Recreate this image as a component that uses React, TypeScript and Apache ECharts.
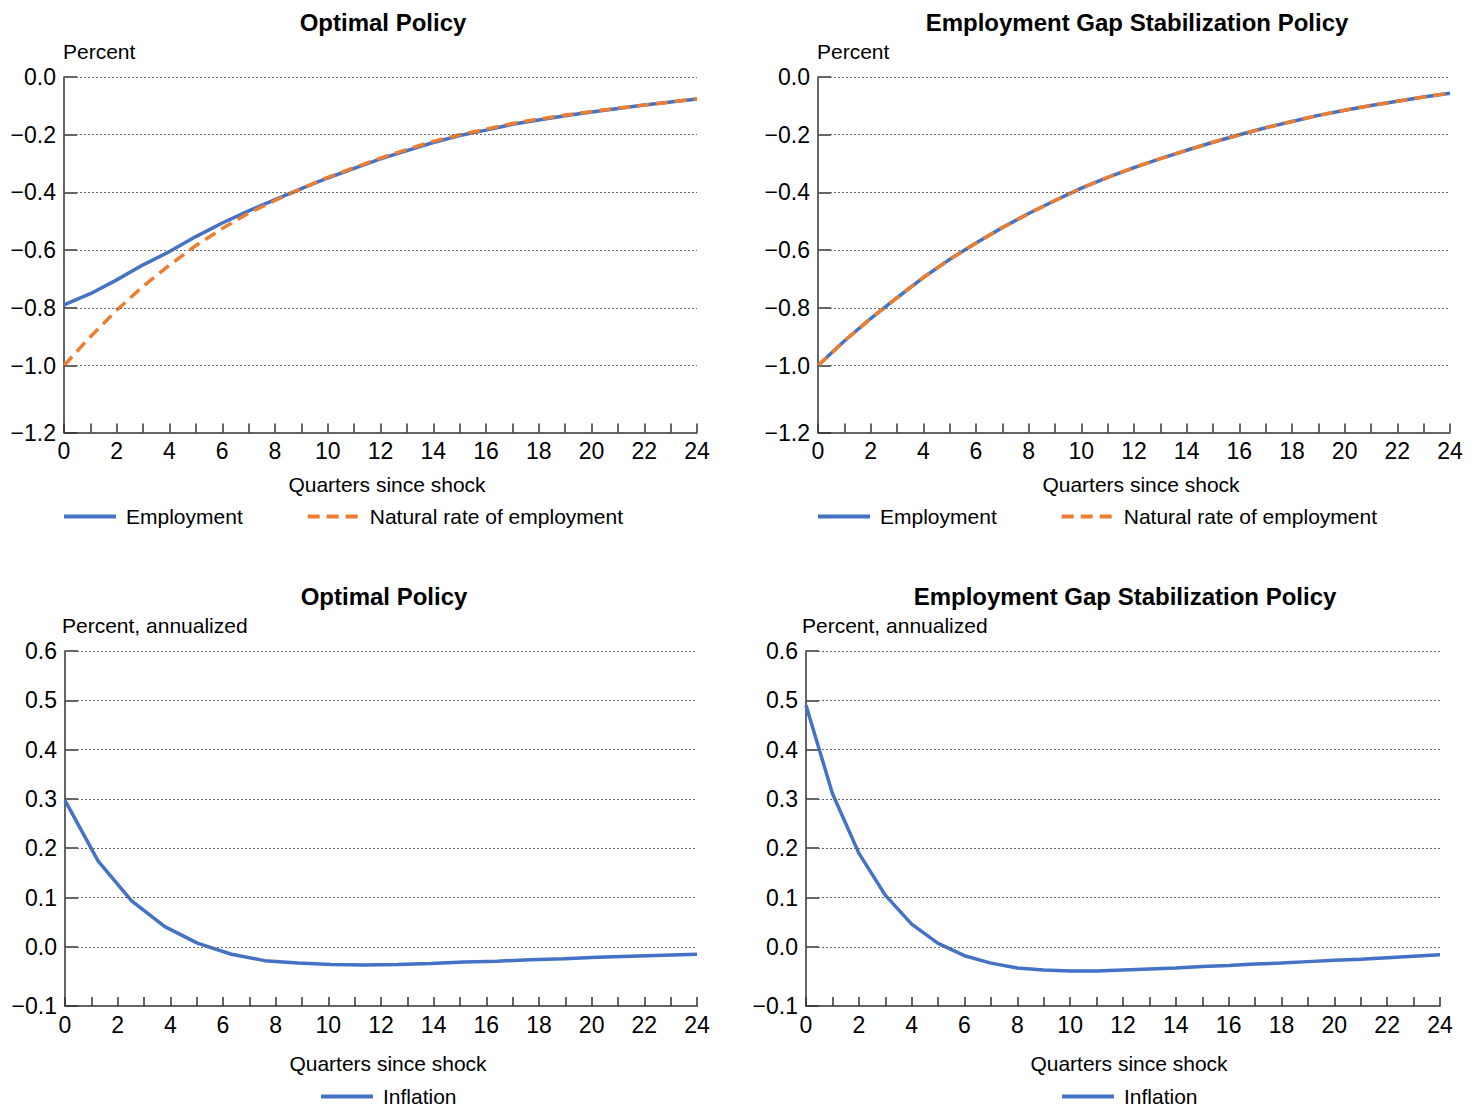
import React, { useEffect, useRef } from 'react';
import * as echarts from 'echarts';

// ---------- data ----------
const QUARTERS = [0, 1, 2, 3, 4, 5, 6, 7, 8, 9, 10, 11, 12, 13, 14, 15, 16, 17, 18, 19, 20, 21, 22, 23, 24];

const OP_EMPLOYMENT = [-0.790, -0.751, -0.703, -0.651, -0.605, -0.553, -0.506, -0.464, -0.425, -0.387, -0.350, -0.317, -0.284, -0.255, -0.227, -0.203, -0.184, -0.164, -0.149, -0.134, -0.121, -0.109, -0.097, -0.087, -0.076];
const OP_NATURAL = [-1.000, -0.900, -0.808, -0.725, -0.652, -0.584, -0.525, -0.472, -0.428, -0.387, -0.348, -0.314, -0.281, -0.251, -0.223, -0.200, -0.181, -0.161, -0.146, -0.132, -0.120, -0.108, -0.097, -0.087, -0.075];

const EG_EMPLOYMENT = [-1.000, -0.915, -0.837, -0.765, -0.695, -0.632, -0.575, -0.522, -0.473, -0.428, -0.385, -0.348, -0.314, -0.283, -0.254, -0.226, -0.200, -0.176, -0.154, -0.133, -0.115, -0.099, -0.084, -0.069, -0.056];
const EG_NATURAL = [-1.000, -0.915, -0.837, -0.765, -0.695, -0.632, -0.575, -0.522, -0.473, -0.428, -0.385, -0.348, -0.314, -0.283, -0.254, -0.226, -0.200, -0.176, -0.154, -0.133, -0.115, -0.099, -0.084, -0.069, -0.056];

const OP_INFL_QUARTERS = [0, 1.26, 2.53, 3.79, 5.05, 6.32, 7.58, 8.84, 10.11, 11.37, 12.63, 13.89, 15.16, 16.42, 17.68, 18.95, 20.21, 21.47, 22.74, 24];
const OP_INFLATION = [0.297, 0.174, 0.093, 0.041, 0.007, -0.015, -0.028, -0.033, -0.036, -0.037, -0.036, -0.034, -0.031, -0.029, -0.026, -0.024, -0.021, -0.019, -0.017, -0.015];

const EG_INFLATION = [0.490, 0.311, 0.190, 0.105, 0.046, 0.007, -0.018, -0.033, -0.043, -0.047, -0.049, -0.049, -0.047, -0.045, -0.043, -0.040, -0.038, -0.035, -0.033, -0.030, -0.027, -0.025, -0.022, -0.019, -0.016];

const EMP_TICKS = [-1.2, -1.0, -0.8, -0.6, -0.4, -0.2, 0.0];
const INF_TICKS = [-0.1, 0.0, 0.1, 0.2, 0.3, 0.4, 0.5, 0.6];

const TITLES_TOP = ['Optimal Policy', 'Employment Gap Stabilization Policy'];
const UNIT_TOP = 'Percent';
const UNIT_BOTTOM = 'Percent, annualized';
const X_NAME = 'Quarters since shock';

// ---------- style ----------
const BLUE = '#4472C4';
const ORANGE = '#ED7D31';
const AXIS = '#333333';
const GRIDC = '#666666';
const FONT = '"Liberation Sans", Arial, Helvetica, sans-serif';

const EMP_MIN = -1.232;
const INF_MIN = -0.12;

const fmt = (v: number) => {
  const s = Math.abs(v) < 1e-9 ? '0.0' : v.toFixed(1);
  return s.replace('-', '\u2212');
};

function buildOption() {
  const grids = [
    { left: 64, top: 77, width: 633, height: 355.5 },
    { left: 818, top: 77, width: 632, height: 355.5 },
    { left: 65, top: 651, width: 632, height: 355 },
    { left: 806, top: 651, width: 634, height: 355 },
  ];

  const xAxes = grids.map((_, i) => ({
    type: 'value',
    gridIndex: i,
    min: 0,
    max: 24,
    interval: 1,
    axisLine: { show: true, onZero: false, lineStyle: { color: AXIS, width: 1.5 } },
    axisTick: { show: true, inside: true, length: 9, lineStyle: { color: AXIS, width: 1.5 } },
    axisLabel: {
      formatter: (v: number) => (v % 2 === 0 ? String(v) : ''),
      color: '#000',
      fontSize: 23,
      fontFamily: FONT,
      margin: 7,
    },
    splitLine: { show: false },
  }));

  const yAxis = (i: number, ticks: number[], min: number) => {
    const vals = ticks.map((t, k) => (k === 0 ? min : t));
    return {
      type: 'value',
      gridIndex: i,
      min,
      max: ticks[ticks.length - 1],
      axisLine: { show: true, onZero: false, lineStyle: { color: AXIS, width: 1.5 } },
      axisTick: { show: true, inside: true, length: 13, customValues: vals, lineStyle: { color: AXIS, width: 1.5 } },
      axisLabel: {
        customValues: vals,
        formatter: (v: number) => {
          let best = 0;
          vals.forEach((x, k) => { if (Math.abs(x - v) < Math.abs(vals[best] - v)) best = k; });
          return fmt(ticks[best]);
        },
        color: '#000',
        fontSize: 23,
        fontFamily: FONT,
        margin: 8,
      },
      splitLine: { show: false },
    };
  };

  const yAxes = [
    yAxis(0, EMP_TICKS, EMP_MIN),
    yAxis(1, EMP_TICKS, EMP_MIN),
    yAxis(2, INF_TICKS, INF_MIN),
    yAxis(3, INF_TICKS, INF_MIN),
  ];

  const gridLines = (i: number, ticks: number[]) => ({
    type: 'line',
    name: '__grid' + i,
    xAxisIndex: i,
    yAxisIndex: i,
    data: [],
    silent: true,
    z: 1,
    markLine: {
      silent: true,
      symbol: ['none', 'none'],
      label: { show: false },
      emphasis: { disabled: true },
      lineStyle: { type: [2, 2], color: GRIDC, width: 1 },
      data: ticks.slice(1).map((v) => ({ yAxis: v })),
    },
  });

  const lineSeries = (name: string, i: number, xs: number[], ys: number[], color: string, dashed: boolean) => ({
    type: 'line',
    name,
    xAxisIndex: i,
    yAxisIndex: i,
    data: xs.map((x, k) => [x, ys[k]]),
    symbol: 'none',
    showSymbol: false,
    z: dashed ? 4 : 3,
    lineStyle: { color, width: 3.5, type: dashed ? [12, 7] : 'solid' },
    itemStyle: { color },
    emphasis: { disabled: true },
  });

  const series = [
    gridLines(0, EMP_TICKS),
    gridLines(1, EMP_TICKS),
    gridLines(2, INF_TICKS),
    gridLines(3, INF_TICKS),
    lineSeries('Employment', 0, QUARTERS, OP_EMPLOYMENT, BLUE, false),
    lineSeries('Natural rate of employment', 0, QUARTERS, OP_NATURAL, ORANGE, true),
    lineSeries('Employment', 1, QUARTERS, EG_EMPLOYMENT, BLUE, false),
    lineSeries('Natural rate of employment', 1, QUARTERS, EG_NATURAL, ORANGE, true),
    lineSeries('Inflation', 2, OP_INFL_QUARTERS, OP_INFLATION, BLUE, false),
    lineSeries('Inflation', 3, QUARTERS, EG_INFLATION, BLUE, false),
  ];

  const legendBase = {
    orient: 'horizontal',
    padding: 0,
    itemWidth: 52,
    itemHeight: 14,
    itemGap: 63,
    selectedMode: false,
    itemStyle: { opacity: 0 },
    lineStyle: { width: 4 },
    textStyle: { color: '#000', fontSize: 21, fontFamily: FONT, padding: [0, 0, 0, 5] },
  };
  const legends = [
    { ...legendBase, left: 62, top: 506, data: ['Employment', 'Natural rate of employment'] },
    { ...legendBase, left: 816, top: 506, data: ['Employment', 'Natural rate of employment'] },
    { ...legendBase, left: 319, top: 1086, data: ['Inflation'] },
    { ...legendBase, left: 1060, top: 1086, data: ['Inflation'] },
  ];

  const txt = (text: string, x: number, y: number, size: number, bold: boolean, align: string) => ({
    type: 'text',
    x,
    y,
    silent: true,
    style: {
      text,
      fill: '#000',
      font: `${bold ? 'bold ' : ''}${size}px ${FONT}`,
      fontSize: size,
      fontWeight: bold ? 'bold' : 'normal',
      fontFamily: FONT,
      align,
      verticalAlign: 'middle',
      textAlign: align,
      textVerticalAlign: 'middle',
    },
  });

  const graphic = [
    txt(TITLES_TOP[0], 383, 22, 24, true, 'center'),
    txt(TITLES_TOP[1], 1137, 22, 24, true, 'center'),
    txt(TITLES_TOP[0], 384, 596, 24, true, 'center'),
    txt(TITLES_TOP[1], 1125, 596, 24, true, 'center'),
    txt(UNIT_TOP, 63, 51, 21, false, 'left'),
    txt(UNIT_TOP, 817, 51, 21, false, 'left'),
    txt(UNIT_BOTTOM, 62, 625, 21, false, 'left'),
    txt(UNIT_BOTTOM, 802, 625, 21, false, 'left'),
    txt(X_NAME, 387, 484, 21, false, 'center'),
    txt(X_NAME, 1141, 484, 21, false, 'center'),
    txt(X_NAME, 388, 1063, 21, false, 'center'),
    txt(X_NAME, 1129, 1063, 21, false, 'center'),
  ];

  return {
    animation: false,
    backgroundColor: '#ffffff',
    textStyle: { fontFamily: FONT },
    grid: grids,
    xAxis: xAxes,
    yAxis: yAxes,
    legend: legends,
    series,
    graphic,
  };
}

export default function App() {
  const ref = useRef<HTMLDivElement>(null);
  useEffect(() => {
    if (!ref.current) return;
    const chart = echarts.init(ref.current, null, { renderer: 'svg' });
    chart.setOption(buildOption() as any);
    return () => chart.dispose();
  }, []);
  return (
    <div
      ref={ref}
      style={{ position: 'absolute', left: 0, top: 0, width: 1481, height: 1109, background: '#fff' }}
    />
  );
}
